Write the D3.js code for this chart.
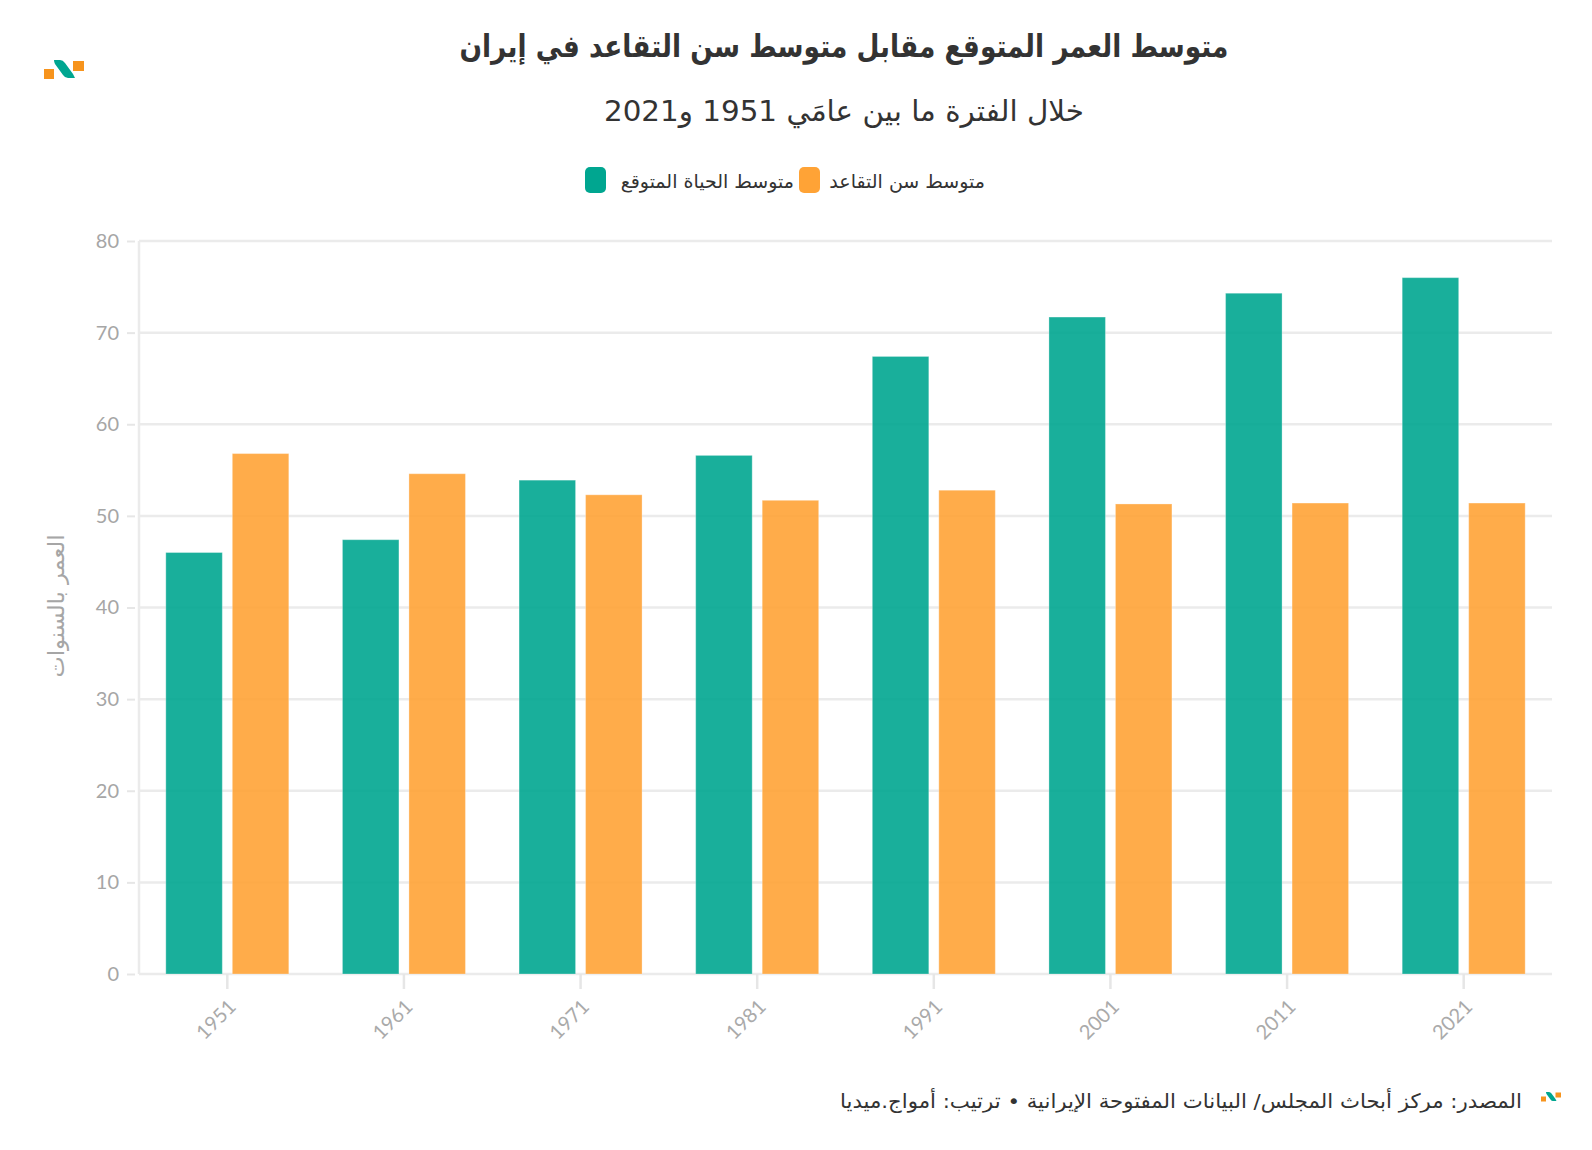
<!DOCTYPE html>
<html><head><meta charset="utf-8">
<script src="https://cdn.jsdelivr.net/npm/d3@7"></script>
<style>
html,body{margin:0;padding:0;background:#fff;}
svg{display:block;}
.ar{font-family:"DejaVu Sans","Noto Sans",sans-serif;}
.num{font-family:Lato,"Open Sans",sans-serif;}
</style></head>
<body>
<svg id="chart" width="1592" height="1150"></svg>
<script>
const years = ["1951","1961","1971","1981","1991","2001","2011","2021"];
const lifeExpectancy = [46.0, 47.4, 53.9, 56.6, 67.4, 71.7, 74.3, 76.0];
const retirementAge = [56.8, 54.6, 52.3, 51.7, 52.8, 51.3, 51.4, 51.4];
const yTicks = [0,10,20,30,40,50,60,70,80];
const seriesNames = ["متوسط الحياة المتوقع","متوسط سن التقاعد"];
const title = "متوسط العمر المتوقع مقابل متوسط سن التقاعد في إيران";
const subtitle = "خلال الفترة ما بين عامَي 1951 و2021";
const yTitle = "العمر بالسنوات";
const source = "المصدر: مركز أبحاث المجلس/ البيانات المفتوحة الإيرانية • ترتيب: أمواج.ميديا";

const TEAL = "#00a690", ORANGE = "#ffa336";
const svg = d3.select("#chart");
const L = 139, R = 1552, T = 241, B = 974;

const x = d3.scaleBand().domain(years).range([L, R]).padding(0);
const y = d3.scaleLinear().domain([0, 80]).range([B, T]);
const barW = 56.5, gap = 10;

// gridlines
svg.append("g").selectAll("line").data(yTicks).join("line")
  .attr("x1", L).attr("x2", R).attr("y1", d => y(d)).attr("y2", d => y(d))
  .attr("stroke", "#ebebeb").attr("stroke-width", 2.5);
// left axis line
svg.append("line").attr("x1", L).attr("x2", L).attr("y1", T).attr("y2", B)
  .attr("stroke", "#ebebeb").attr("stroke-width", 2.5);

// y axis
const yAxis = svg.append("g").attr("transform", `translate(${L-4},0)`)
  .call(d3.axisLeft(y).tickValues(yTicks).tickSize(8).tickPadding(8));
yAxis.select(".domain").remove();
yAxis.selectAll(".tick line").attr("stroke", "#e6e6e6").attr("stroke-width", 2);
yAxis.selectAll(".tick text").attr("class", "num").attr("font-size", 20).attr("fill", "#a6a6a6");

// x axis
const xAxis = svg.append("g").attr("transform", `translate(0,${B})`)
  .call(d3.axisBottom(x).tickSize(15).tickPadding(6));
xAxis.select(".domain").remove();
xAxis.selectAll(".tick line").attr("stroke", "#e6e6e6").attr("stroke-width", 2.5);
xAxis.selectAll(".tick text").attr("class", "num").attr("font-size", 20).attr("fill", "#aaaaaa")
  .attr("text-anchor", "end").attr("x", 0).attr("y", 0).attr("dy", 0)
  .attr("transform", "translate(10,34) rotate(-45)");

// bars
const g = svg.append("g");
g.selectAll("rect.le").data(years).join("rect").attr("class","le")
  .attr("x", (d) => x(d) + x.bandwidth()/2 - gap/2 - barW)
  .attr("width", barW)
  .attr("y", (d,i) => y(lifeExpectancy[i]))
  .attr("height", (d,i) => y(0) - y(lifeExpectancy[i]))
  .attr("fill", TEAL).attr("fill-opacity", 0.9)
  .attr("stroke", "#ffffff").attr("stroke-opacity", 0.3).attr("stroke-width", 1);
g.selectAll("rect.ra").data(years).join("rect").attr("class","ra")
  .attr("x", (d) => x(d) + x.bandwidth()/2 + gap/2)
  .attr("width", barW)
  .attr("y", (d,i) => y(retirementAge[i]))
  .attr("height", (d,i) => y(0) - y(retirementAge[i]))
  .attr("fill", ORANGE).attr("fill-opacity", 0.9)
  .attr("stroke", "#ffffff").attr("stroke-opacity", 0.3).attr("stroke-width", 1);

// titles
svg.append("text").attr("class","ar").attr("direction","rtl")
  .attr("x", 844).attr("y", 57).attr("text-anchor","middle")
  .attr("font-size", 31).attr("font-weight","bold").attr("fill","#333")
  .attr("textLength", 769).attr("lengthAdjust","spacingAndGlyphs")
  .text(title);
svg.append("text").attr("class","ar").attr("direction","rtl")
  .attr("x", 844).attr("y", 121).attr("text-anchor","middle")
  .attr("font-size", 29).attr("fill","#333")
  .attr("textLength", 480).attr("lengthAdjust","spacingAndGlyphs")
  .text(subtitle);

// legend
const legend = svg.append("g");
const legendItems = [
  {name: seriesNames[1], color: ORANGE, sx: 799, tx: 985},
  {name: seriesNames[0], color: TEAL, sx: 585, tx: 794}
];
legendItems.forEach(it => {
  legend.append("rect").attr("x", it.sx).attr("y", 167).attr("width", 21).attr("height", 26)
    .attr("rx", 5).attr("fill", it.color);
  legend.append("text").attr("class","ar").attr("direction","rtl")
    .attr("x", it.tx).attr("y", 188).attr("text-anchor","start")
    .attr("font-size", 19).attr("fill","#333").text(it.name);
});

// y title
svg.append("text").attr("class","ar").attr("direction","rtl")
  .attr("transform","translate(64,606) rotate(-90)")
  .attr("text-anchor","middle").attr("font-size", 22).attr("fill","#a6a6a6")
  .attr("textLength", 143).attr("lengthAdjust","spacingAndGlyphs")
  .text(yTitle);

// source
svg.append("text").attr("class","ar").attr("direction","rtl")
  .attr("x", 1522).attr("y", 1108).attr("text-anchor","start")
  .attr("font-size", 20).attr("fill","#333")
  .attr("textLength", 682).attr("lengthAdjust","spacingAndGlyphs")
  .text(source);

// logos
function logo(gx, s){
  const lg = svg.append("g").attr("transform", `translate(${gx[0]},${gx[1]}) scale(${s})`);
  lg.append("rect").attr("x",0).attr("y",9).attr("width",10).attr("height",10).attr("fill","#f7941d");
  lg.append("rect").attr("x",29).attr("y",1).attr("width",11).attr("height",10).attr("fill","#f7941d");
  lg.append("path").attr("d","M10,0 L16,0 Q19,0 21,3 L29,14 Q31,18 31,18 L24,18 Q21,18 19,15 L11,4 Q10,2 10,0 Z")
    .attr("fill","#00a690");
}
logo([44,60], 1);
logo([1541,1092], 0.5);
</script>
</body></html>
